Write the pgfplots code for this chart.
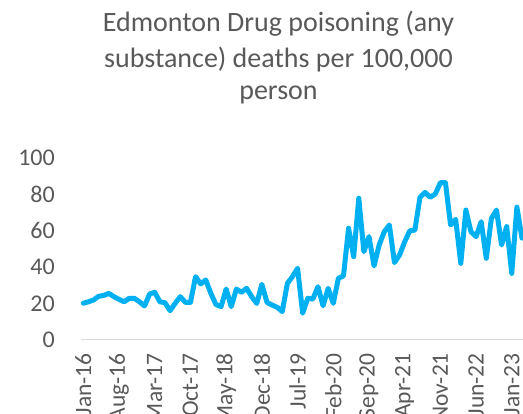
\documentclass[border=0pt]{standalone}
\usepackage{pgfplots}
\pgfplotsset{compat=1.18}
\usepackage{fontspec}
\setmainfont{Carlito}
\definecolor{lineblue}{HTML}{00B0F0}
\definecolor{txtgrey}{HTML}{595959}
\definecolor{axgrey}{HTML}{D9D9D9}
\begin{document}
\begin{tikzpicture}
\begin{axis}[
  at={(80.8pt,74pt)}, anchor=south west,
  scale only axis,
  width=442.2pt, height=182pt,
  xmin=-0.5, xmax=86.2, ymin=0, ymax=100,
  axis x line*=bottom, axis y line*=left,
  x axis line style={draw=axgrey, line width=1pt},
  y axis line style={draw=none},
  major tick length=0pt,
  xtick={0,7,...,84},
  xticklabels={Jan-16,Aug-16,Mar-17,Oct-17,May-18,Dec-18,Jul-19,Feb-20,Sep-20,Apr-21,Nov-21,Jun-22,Jan-23},
  ytick={0,20,...,100},
  /pgf/number format/assume math mode=true,
  xticklabel style={rotate=90, anchor=east, inner sep=0pt, font=\fontsize{23.5}{24}\selectfont, text=txtgrey},
  yticklabel style={anchor=east, inner sep=0pt, font=\fontsize{24}{24}\selectfont, text=txtgrey},
  xticklabel shift=13pt,
  yticklabel shift=25.8pt,
]
\addplot[lineblue, line width=5pt, line join=round, line cap=round] coordinates {
(0,20.2) (1,21) (2,22) (3,24) (4,24.5) (5,25.6) (6,23.8) (7,22.3) (8,21) (9,22.9)
(10,22.9) (11,21) (12,18.7) (13,25.3) (14,26.2) (15,21) (16,20.5) (17,16.1) (18,20.1) (19,23.8)
(20,20.7) (21,20.7) (22,34.8) (23,30.8) (24,33) (25,25.6) (26,19.5) (27,18.3) (28,28) (29,18.3)
(30,28) (31,26.2) (32,28.4) (33,23.8) (34,20.1) (35,30.6) (36,20.7) (37,19.2) (38,18) (39,15.6)
(40,31.1) (41,34.8) (42,39.4) (43,14.7) (44,22.9) (45,22.5) (46,29.3) (47,18.8) (48,28.4) (49,20.1)
(50,33.9) (51,35.2) (52,61.4) (53,45.8) (54,77.9) (55,48.5) (56,56.8) (57,40.7) (58,52.2) (59,59.5)
(60,63.2) (61,42.5) (62,46.7) (63,54) (64,60) (65,60.4) (66,78.4) (67,81.1) (68,78.4) (69,80.2)
(70,86.4) (71,86.4) (72,63.2) (73,66.3) (74,42.1) (75,71.4) (76,59.5) (77,56.8) (78,65) (79,44.9)
(80,66.8) (81,71.4) (82,52.2) (83,62.3) (84,36.6) (85,73) (86,56)
};
\end{axis}
\begin{scope}[every node/.style={anchor=base, inner sep=0pt, text=txtgrey, font=\fontsize{28}{28}\selectfont}]
\node at (278.5pt,382pt) {Edmonton Drug poisoning (any};
\node at (278.5pt,346pt) {substance) deaths per 100,000};
\node at (278.5pt,314pt) {person};
\end{scope}
\pgfresetboundingbox
\path[use as bounding box] (0,0) rectangle (523pt,414pt);
\end{tikzpicture}
\end{document}
